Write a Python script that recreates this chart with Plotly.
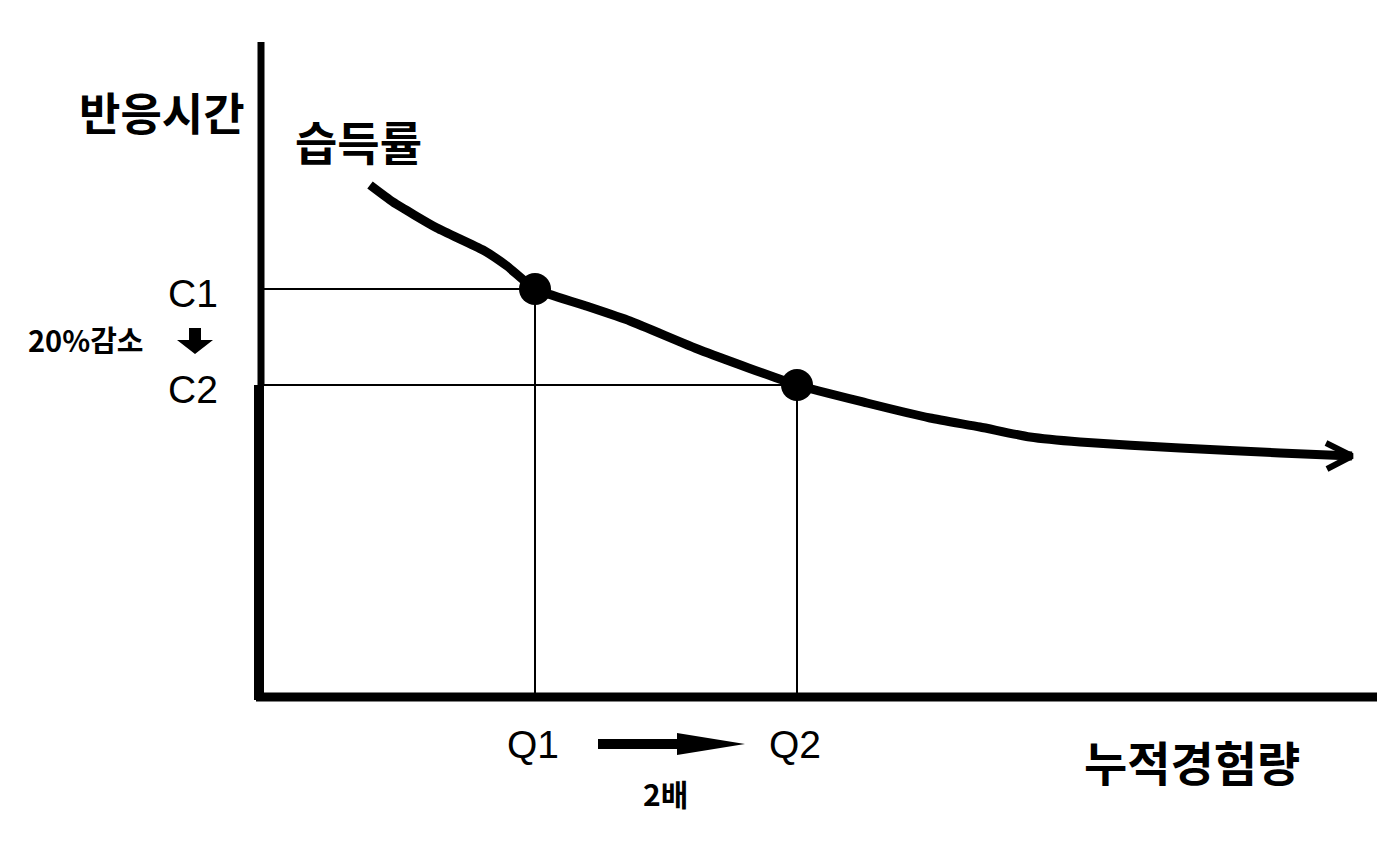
import plotly.graph_objects as go

# ---- data (units; origin at the axis corner) ----
experience = [1.09, 1.32, 1.76, 2.22, 2.46, 2.74, 3.22, 3.69, 4.39, 5.36,
              6.06, 6.69, 7.19, 7.69, 8.19, 9.19, 10.19, 10.91]
reaction_time = [5.12, 4.95, 4.69, 4.47, 4.31, 4.08, 3.92, 3.76, 3.47, 3.12,
                 2.94, 2.79, 2.70, 2.60, 2.55, 2.49, 2.44, 2.41]
q_values = [2.74, 5.36]          # Q1, Q2
c_values = [4.08, 3.12]          # C1, C2
q_labels = ["Q1", "Q2"]
c_labels = ["C1", "C2"]
x_axis_max = 11.16
y_axis_max = 6.55

# the page body adds an 8px margin, so the figure is 1392x848
X_RANGE = [-2.53, 11.39]
Y_RANGE = [-1.59, 6.89]

KR = "Noto Sans CJK KR"
LAT = "Liberation Sans, Arial, sans-serif"

fig = go.Figure()

# axes drawn as thick lines
fig.add_trace(go.Scatter(x=[0, 0], y=[y_axis_max, c_values[1]], mode="lines",
                         line=dict(color="black", width=7), hoverinfo="skip"))
fig.add_trace(go.Scatter(x=[-0.02, -0.02], y=[c_values[1], -0.03], mode="lines",
                         line=dict(color="black", width=10), hoverinfo="skip"))
fig.add_trace(go.Scatter(x=[-0.05, x_axis_max], y=[0, 0], mode="lines",
                         line=dict(color="black", width=9), hoverinfo="skip"))

# guide lines from points to the axes
for q, c in zip(q_values, c_values):
    fig.add_trace(go.Scatter(x=[0, q, q], y=[c, c, 0], mode="lines",
                             line=dict(color="black", width=2), hoverinfo="skip"))

# learning curve
fig.add_trace(go.Scatter(x=experience, y=reaction_time, mode="lines",
                         line=dict(color="black", width=9, shape="spline", smoothing=0.5),
                         hoverinfo="skip"))

# open arrow head at the end of the curve
ex, ey = experience[-1], reaction_time[-1]
fig.add_trace(go.Scatter(x=[ex - 0.26, ex, ex - 0.25], y=[ey + 0.13, ey, ey - 0.13],
                         mode="lines", line=dict(color="black", width=6),
                         hoverinfo="skip"))

# points
fig.add_trace(go.Scatter(x=q_values, y=c_values, mode="markers",
                         marker=dict(color="black", size=32), hoverinfo="skip"))

shapes = []
# down arrow (20% 감소)
ax0, ay0 = -0.66, 3.69
shapes.append(dict(type="path", xref="x", yref="y",
                   path=(f"M {ax0-0.06} {ay0} L {ax0+0.06} {ay0} L {ax0+0.06} {ay0-0.12} "
                         f"L {ax0+0.18} {ay0-0.12} L {ax0} {ay0-0.26} L {ax0-0.18} {ay0-0.12} "
                         f"L {ax0-0.06} {ay0-0.12} Z"),
                   fillcolor="black", line=dict(width=0)))
# right arrow (2배)
bx0, by0 = 3.37, -0.47
shapes.append(dict(type="path", xref="x", yref="y",
                   path=(f"M {bx0} {by0+0.05} L {bx0+0.79} {by0+0.05} L {bx0+0.79} {by0+0.11} "
                         f"L {bx0+1.47} {by0} L {bx0+0.79} {by0-0.11} L {bx0+0.79} {by0-0.05} "
                         f"L {bx0} {by0-0.05} Z"),
                   fillcolor="black", line=dict(width=0)))

annotations = [
    dict(x=-0.99, y=5.86, text="<b>반응시간</b>", font=dict(family=KR, size=45, color="black")),
    dict(x=0.97, y=5.57, text="<b>습득률</b>", font=dict(family=KR, size=46, color="black")),
    dict(x=9.31, y=-0.63, text="<b>누적경험량</b>", font=dict(family=KR, size=47, color="black")),
    dict(x=-1.15, y=3.58, text="<b>20%감소</b>", xanchor="right",
         font=dict(family=KR, size=29, color="black")),
    dict(x=4.04, y=-0.96, text="<b>2배</b>", font=dict(family=KR, size=30, color="black")),
]
for lab, c in zip(c_labels, c_values):
    annotations.append(dict(x=-0.68, y=c - 0.04, text=lab,
                            font=dict(family=LAT, size=39, color="black")))
for lab, q in zip(q_labels, q_values):
    annotations.append(dict(x=q - 0.02, y=-0.47, text=lab,
                            font=dict(family=LAT, size=39, color="black")))
for a in annotations:
    a.update(xref="x", yref="y", showarrow=False)

fig.update_layout(
    width=1392, height=848,
    margin=dict(l=0, r=0, t=0, b=0),
    paper_bgcolor="white", plot_bgcolor="white",
    showlegend=False,
    xaxis=dict(range=X_RANGE, visible=False, fixedrange=True),
    yaxis=dict(range=Y_RANGE, visible=False, fixedrange=True),
    shapes=shapes, annotations=annotations,
)

fig.write_html("out.html")
